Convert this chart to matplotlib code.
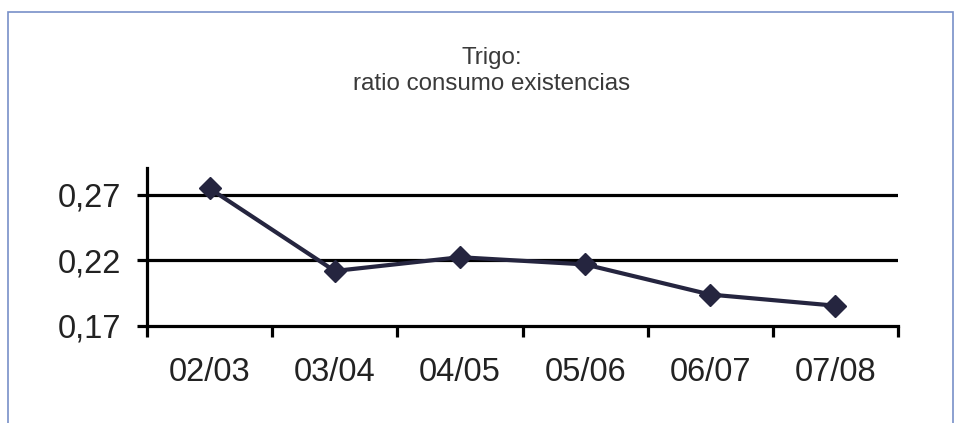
import matplotlib
matplotlib.use("Agg")
import matplotlib.pyplot as plt
import numpy as np
from matplotlib.patches import Rectangle

campaigns = ["02/03", "03/04", "04/05", "05/06", "06/07", "07/08"]
ratio = [0.275, 0.212, 0.2225, 0.217, 0.194, 0.1855]
y_ticks = [0.17, 0.22, 0.27]
y_tick_labels = ["0,17", "0,22", "0,27"]
title = "Trigo:\nratio consumo existencias"

plt.rcParams["font.family"] = ["Liberation Sans", "DejaVu Sans"]

W, H = 955, 423
fig = plt.figure(figsize=(W / 100, H / 100), dpi=100)
fig.patch.set_facecolor("white")

# light blue frame around the chart (bottom edge runs off the page)
fig.patches.append(Rectangle((8 / W, -5 / H), (953 - 8) / W, (H - 12 + 5) / H,
                             transform=fig.transFigure, fill=False,
                             edgecolor="#7890c8", linewidth=1.2))

fig.text(492 / W, 1 - 90 / H, title, ha="center", va="baseline",
         fontsize=17.4, color="#3a3a3a", linespacing=1.25)

ax = fig.add_axes([147 / W, 97 / H, (898 - 147) / W, (326 - 168) / H])
n = len(campaigns)
x = np.arange(n) + 0.5
ax.set_xlim(0, n)
ax.set_ylim(0.17, 0.2906)

for yv in y_ticks[1:]:
    ax.axhline(yv, color="black", linewidth=2.3, zorder=1)

ax.plot(x, ratio, color="#25253f", linewidth=3.0, marker="D",
        markersize=11, markerfacecolor="#25253f", markeredgecolor="#25253f",
        zorder=3, solid_joinstyle="round")

for s in ["top", "right"]:
    ax.spines[s].set_visible(False)
for s in ["left", "bottom"]:
    ax.spines[s].set_linewidth(2.3)
    ax.spines[s].set_color("black")

ax.set_yticks(y_ticks)
ax.set_yticklabels(y_tick_labels)
ax.tick_params(axis="y", direction="out", length=7.5, width=2.3,
               pad=11, labelsize=23.5, labelcolor="#222222")

ax.set_xticks(np.arange(n + 1))
ax.set_xticklabels([])
ax.set_xticks(x, minor=True)
ax.set_xticklabels(campaigns, minor=True)
ax.tick_params(axis="x", which="major", direction="out", length=8, width=2.3)
ax.tick_params(axis="x", which="minor", length=0, pad=22,
               labelsize=23.5, labelcolor="#222222")

fig.savefig("out.png", dpi=100, facecolor="white")
